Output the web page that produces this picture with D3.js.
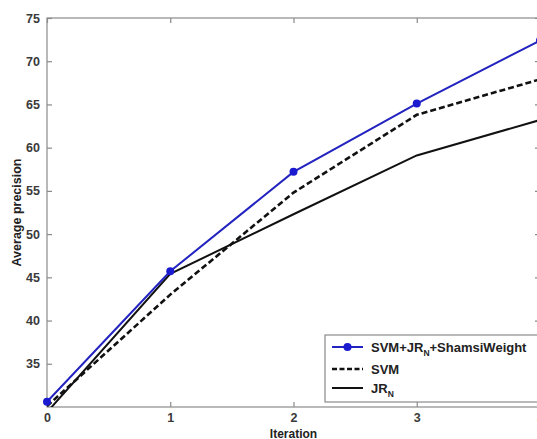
<!DOCTYPE html>
<html><head><meta charset="utf-8">
<script src="https://cdn.jsdelivr.net/npm/d3@7"></script>
<style>body{margin:0;background:#fff;} svg{display:block;}</style>
</head><body>
<script>
const iterations = [0, 1, 2, 3, 4];
const svmShamsi = [30.6, 45.7, 57.2, 65.1, 72.4];
const svm = [30.1, 43.0, 54.8, 63.8, 67.9];
const jrN = [29.4, 45.4, 52.3, 59.1, 63.2];
const yTicks = [35, 40, 45, 50, 55, 60, 65, 70, 75];
const xTicks = [0, 1, 2, 3, 4];

const W = 537, H = 439;
const m = {left: 47, top: 18, right: 540, bottom: 407};
const svg = d3.select("body").append("svg").attr("width", W).attr("height", H);
const x = d3.scaleLinear().domain([0, 4]).range([m.left, m.right]);
const y = d3.scaleLinear().domain([30, 75]).range([m.bottom, m.top]);
const font = "Arial, 'Liberation Sans', sans-serif";
const axisCol = "#8a8a8a";

// frame
svg.append("rect").attr("x", m.left).attr("y", m.top).attr("width", m.right - m.left).attr("height", m.bottom - m.top)
  .attr("fill", "none").attr("stroke", axisCol).attr("stroke-width", 1.2);

// axes with inward ticks
const yAxis = d3.axisLeft(y).tickValues(yTicks).tickSize(-5).tickPadding(7).tickFormat(d3.format("d"));
const gy = svg.append("g").attr("transform", `translate(${m.left},0)`).call(yAxis);
const gyr = svg.append("g").attr("transform", `translate(${m.right},0)`).call(d3.axisRight(y).tickValues(yTicks).tickSize(-5).tickFormat(""));
const xAxis = d3.axisBottom(x).tickValues(xTicks).tickSize(-5).tickPadding(6).tickFormat(d3.format("d"));
const gx = svg.append("g").attr("transform", `translate(0,${m.bottom})`).call(xAxis);
const gxt = svg.append("g").attr("transform", `translate(0,${m.top})`).call(d3.axisTop(x).tickValues(xTicks).tickSize(-5).tickFormat(""));
[gy, gyr, gx, gxt].forEach(g => {
  g.select(".domain").remove();
  g.selectAll(".tick line").attr("stroke", axisCol).attr("stroke-width", 1.2);
  g.selectAll("text").attr("fill", "#3a3a3a").attr("font-family", font).attr("font-size", 12.5).attr("font-weight", "bold");
});

// axis titles
svg.append("text").attr("x", (m.left + m.right) / 2).attr("y", 437.5).attr("text-anchor", "middle")
  .attr("font-family", font).attr("font-size", 12).attr("font-weight", "bold").attr("fill", "#222").text("Iteration");
svg.append("text").attr("transform", `translate(21,${(m.top + m.bottom) / 2}) rotate(-90)`).attr("text-anchor", "middle")
  .attr("font-family", font).attr("font-size", 12.5).attr("font-weight", "bold").attr("fill", "#222").text("Average precision");

// clip
svg.append("clipPath").attr("id", "clip").append("rect")
  .attr("x", m.left).attr("y", m.top).attr("width", m.right - m.left).attr("height", m.bottom - m.top);
const plot = svg.append("g").attr("clip-path", "url(#clip)");
const line = d3.line().x((d, i) => x(iterations[i])).y(d => y(d));

plot.append("path").datum(jrN).attr("d", line).attr("fill", "none").attr("stroke", "#111").attr("stroke-width", 2);
plot.append("path").datum(svm).attr("d", line).attr("fill", "none").attr("stroke", "#111").attr("stroke-width", 2.6)
  .attr("stroke-dasharray", "6,3");
plot.append("path").datum(svmShamsi).attr("d", line).attr("fill", "none").attr("stroke", "#2323c0").attr("stroke-width", 2);
svg.append("g").selectAll("circle").data(svmShamsi).join("circle")
  .attr("cx", (d, i) => x(iterations[i])).attr("cy", d => y(d)).attr("r", 4).attr("fill", "#1a1ad0");

// legend
const lg = svg.append("g");
lg.append("rect").attr("x", 325).attr("y", 335).attr("width", 220).attr("height", 67)
  .attr("fill", "#fff").attr("stroke", axisCol).attr("stroke-width", 1.2);
const legendItems = [
  {label: ["SVM+JR", "N", "+ShamsiWeight"], color: "#2323c0", dash: null, w: 2, marker: true, yy: 347},
  {label: ["SVM"], color: "#111", dash: "5,2.5", w: 2.6, marker: false, yy: 369},
  {label: ["JR", "N"], color: "#111", dash: null, w: 2, marker: false, yy: 388}
];
legendItems.forEach(it => {
  lg.append("line").attr("x1", 332).attr("x2", 363).attr("y1", it.yy).attr("y2", it.yy)
    .attr("stroke", it.color).attr("stroke-width", it.w).attr("stroke-dasharray", it.dash);
  if (it.marker) lg.append("circle").attr("cx", 347.5).attr("cy", it.yy).attr("r", 4).attr("fill", "#1a1ad0");
  const t = lg.append("text").attr("x", 371).attr("y", it.yy + 4.5).attr("font-family", font)
    .attr("font-size", 13).attr("font-weight", "bold").attr("fill", "#222");
  t.append("tspan").text(it.label[0]);
  if (it.label.length > 1) t.append("tspan").attr("dy", 4).attr("font-size", 8.5).text(it.label[1]);
  if (it.label.length > 2) t.append("tspan").attr("dy", -4).text(it.label[2]);
});
</script>
</body></html>
